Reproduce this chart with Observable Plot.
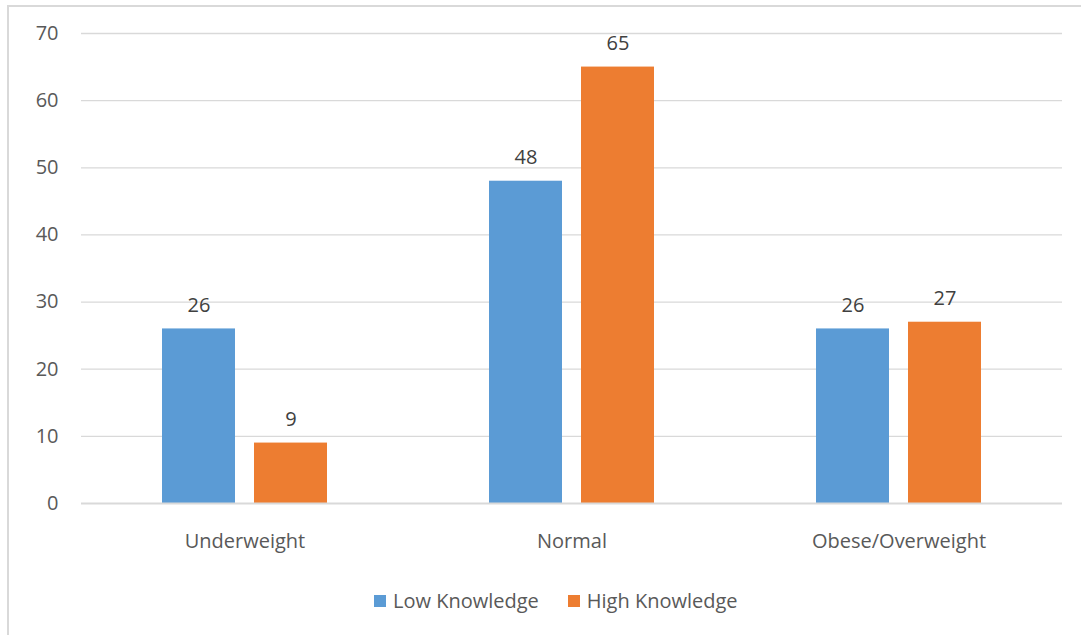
<!DOCTYPE html>
<html>
<head>
<meta charset="utf-8">
<script src="https://cdn.jsdelivr.net/npm/d3@7"></script>
<script src="https://cdn.jsdelivr.net/npm/@observablehq/plot@0.6"></script>
<style>
  html, body { margin: 0; padding: 0; background: #fff; overflow: hidden; }
  body { width: 1081px; height: 635px; position: relative; font-family: "Open Sans", sans-serif; }
  #frame { position: absolute; left: 7px; top: 5px; width: 1200px; height: 800px;
           border-left: 2px solid #d9d9d9; border-top: 2px solid #d9d9d9; }
  #chart { position: absolute; left: 0; top: 0; }
  #legend { position: absolute; left: 374px; top: 589px; display: flex; align-items: center;
            font-size: 20px; color: #595959; line-height: 24px; }
  .item { display: flex; align-items: center; margin-right: 29px; }
  .swatch { width: 12px; height: 12px; margin-right: 7px; }
</style>
</head>
<body>
<div id="frame"></div>
<div id="chart"></div>
<div id="legend"></div>
<script>
const categories = ["Underweight", "Normal", "Obese/Overweight"];
const seriesNames = ["Low Knowledge", "High Knowledge"];
const lowKnowledge = [26, 48, 26];
const highKnowledge = [9, 65, 27];
const yTicks = [0, 10, 20, 30, 40, 50, 60, 70];
const colors = ["#5B9BD5", "#ED7D31"];

const data = categories.flatMap((c, i) => [
  {category: c, series: seriesNames[0], value: lowKnowledge[i]},
  {category: c, series: seriesNames[1], value: highKnowledge[i]}
]);

const chart = Plot.plot({
  width: 1081,
  height: 580,
  marginLeft: 80,
  marginRight: 18,
  marginTop: 33,
  marginBottom: 77,
  style: {fontFamily: "Open Sans, sans-serif", fontSize: "20px", color: "#595959", background: "transparent"},
  fx: {domain: categories, padding: 0, label: null},
  x: {domain: seriesNames, axis: null, paddingInner: 0.21, paddingOuter: 0.867},
  y: {domain: [0, 70], label: null},
  color: {domain: seriesNames, range: colors},
  marks: [
    Plot.ruleY(yTicks.filter(d => d > 0), {stroke: "#d9d9d9", strokeWidth: 1.3}),
    Plot.axisY({ticks: yTicks, tickSize: 0, tickPadding: 23, label: null, fontSize: 20, fill: "#595959"}),
    Plot.axisFx({anchor: "bottom", tickSize: 0, tickPadding: 30, label: null, fontSize: 20, fill: "#595959"}),
    Plot.barY(data, {fx: "category", x: "series", y: "value", fill: "series"}),
    Plot.ruleY([0], {stroke: "#d9d9d9", strokeWidth: 2}),
    Plot.text(data, {fx: "category", x: "series", y: "value", text: d => String(d.value),
      lineAnchor: "bottom", dy: -17, fill: "#404040", fontSize: 20})
  ]
});
document.getElementById("chart").appendChild(chart);

const legend = document.getElementById("legend");
seriesNames.forEach((s, i) => {
  const item = document.createElement("div");
  item.className = "item";
  const sw = document.createElement("div");
  sw.className = "swatch";
  sw.style.background = colors[i];
  const label = document.createElement("span");
  label.textContent = s;
  item.appendChild(sw);
  item.appendChild(label);
  legend.appendChild(item);
});
</script>
</body>
</html>
